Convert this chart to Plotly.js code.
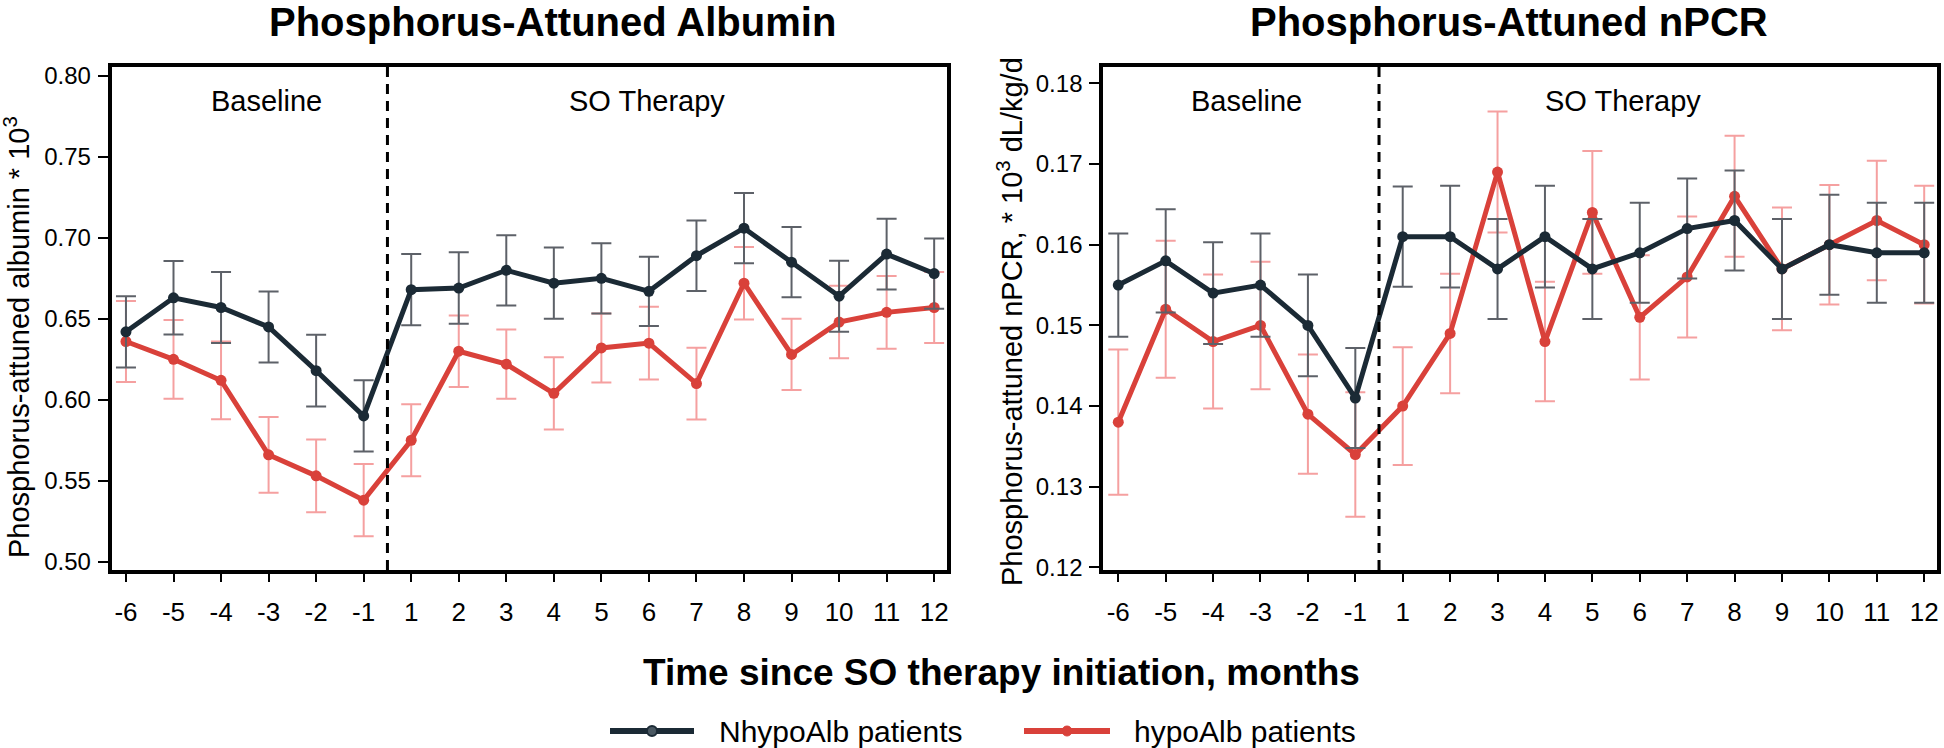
<!DOCTYPE html>
<html>
<head>
<meta charset="utf-8">
<script src="https://cdn.plot.ly/plotly-3.0.1.min.js"></script>
<style>html,body{margin:0;padding:0;background:#fff;}#chart{width:1944px;height:748px;}</style>
</head>
<body>
<div id="chart"></div>
<script>
// ---- data ----
const months = ['-6','-5','-4','-3','-2','-1','1','2','3','4','5','6','7','8','9','10','11','12'];

const albNhypo    = [0.642,0.663,0.657,0.645,0.618,0.590,0.668,0.669,0.680,0.672,0.675,0.667,0.689,0.706,0.685,0.664,0.690,0.678];
const albNhypoErr = [0.022,0.0227,0.0219,0.0219,0.0222,0.022,0.022,0.0221,0.0217,0.022,0.0217,0.0214,0.0218,0.0217,0.0217,0.0219,0.0218,0.0217];
const albHypo     = [0.636,0.625,0.612,0.566,0.553,0.538,0.575,0.630,0.622,0.604,0.632,0.635,0.610,0.672,0.628,0.648,0.654,0.657];
const albHypoErr  = [0.025,0.0243,0.024,0.0234,0.0225,0.0223,0.0223,0.0221,0.0214,0.0223,0.0213,0.0224,0.0221,0.0224,0.022,0.0224,0.0224,0.0219];

const npcrNhypo    = [0.155,0.158,0.154,0.155,0.150,0.141,0.161,0.161,0.157,0.161,0.157,0.159,0.162,0.163,0.157,0.160,0.159,0.159];
const npcrNhypoErr = [0.0064,0.0064,0.0063,0.0064,0.0063,0.0062,0.0062,0.0063,0.0062,0.0063,0.0062,0.0062,0.0062,0.0062,0.0062,0.0062,0.0062,0.0062];
const npcrHypo     = [0.138,0.152,0.148,0.150,0.139,0.134,0.140,0.149,0.169,0.148,0.164,0.151,0.156,0.166,0.157,0.160,0.163,0.160];
const npcrHypoErr  = [0.009,0.0085,0.0083,0.0079,0.0074,0.0077,0.0073,0.0074,0.0075,0.0074,0.0076,0.0077,0.0075,0.0075,0.0076,0.0074,0.0074,0.0073];

const albTicks  = [0.50,0.55,0.60,0.65,0.70,0.75,0.80];
const npcrTicks = [0.12,0.13,0.14,0.15,0.16,0.17,0.18];

const seriesNames = ['NhypoAlb patients', 'hypoAlb patients'];

// ---- styles ----
const DARK = '#1b2a35', RED = '#d9413a', DARK_ERR = '#5d6168', RED_ERR = '#f5a0a0';
const FONT = 'Liberation Sans, Arial, Helvetica, sans-serif';

function series(x, y, err, name, color, errColor, xa, ya) {
  return {
    type: 'scatter', mode: 'lines+markers', x: x, y: y, name: name,
    xaxis: xa, yaxis: ya, showlegend: false,
    line: {color: color, width: 5},
    marker: {color: color, size: 11},
    error_y: {type: 'data', array: err, visible: true, color: errColor, thickness: 2, width: 10}
  };
}

const data = [
  series(months, albHypo, albHypoErr, seriesNames[1], RED, RED_ERR, 'x', 'y'),
  series(months, albNhypo, albNhypoErr, seriesNames[0], DARK, DARK_ERR, 'x', 'y'),
  series(months, npcrHypo, npcrHypoErr, seriesNames[1], RED, RED_ERR, 'x2', 'y2'),
  series(months, npcrNhypo, npcrNhypoErr, seriesNames[0], DARK, DARK_ERR, 'x2', 'y2')
];

const xCommon = {
  type: 'category', showline: true, mirror: true, linewidth: 4, linecolor: '#000',
  ticks: 'outside', ticklen: 8, tickwidth: 2, tickcolor: '#000', ticklabelstandoff: 8,
  tickfont: {family: FONT, size: 26, color: '#000'},
  showgrid: false, zeroline: false, fixedrange: true
};
const yCommon = {
  showline: true, mirror: true, linewidth: 4, linecolor: '#000',
  ticks: 'outside', ticklen: 10, tickwidth: 2, tickcolor: '#000', ticklabelstandoff: 2,
  tickfont: {family: FONT, size: 24, color: '#000'},
  showgrid: false, zeroline: false, tickformat: '.2f', fixedrange: true
};

const yDom = [0.238, 0.9104];
const LEG_Y = 1 - 731/748;
const px = v => v / 1944;

const layout = {
  width: 1944, height: 748,
  margin: {l: 0, r: 0, t: 0, b: 0},
  paper_bgcolor: '#fff', plot_bgcolor: '#fff',
  font: {family: FONT, color: '#000'},
  showlegend: false,
  xaxis: Object.assign({}, xCommon, {domain: [0.05746, 0.48714], range: [-0.30, 17.27], anchor: 'y'}),
  yaxis: Object.assign({}, yCommon, {domain: yDom, range: [0.49487, 0.80556], tickvals: albTicks, anchor: 'x'}),
  xaxis2: Object.assign({}, xCommon, {domain: [0.56754, 0.9964], range: [-0.316, 17.27], anchor: 'y2'}),
  yaxis2: Object.assign({}, yCommon, {domain: yDom, range: [0.11969, 0.18202], tickvals: npcrTicks, anchor: 'x2'}),
  shapes: [
    {type: 'line', xref: 'x', yref: 'paper', x0: 5.5, x1: 5.5, y0: yDom[0], y1: yDom[1],
     line: {color: '#000', width: 3, dash: '10px,7px'}},
    {type: 'line', xref: 'x2', yref: 'paper', x0: 5.5, x1: 5.5, y0: yDom[0], y1: yDom[1],
     line: {color: '#000', width: 3, dash: '10px,7px'}},
    // legend keys
    {type: 'line', xref: 'paper', yref: 'paper', x0: px(610), x1: px(694), y0: LEG_Y, y1: LEG_Y,
     line: {color: DARK, width: 6}},
    {type: 'circle', xref: 'paper', yref: 'paper', xsizemode: 'pixel', ysizemode: 'pixel',
     xanchor: px(652), yanchor: LEG_Y, x0: -5, x1: 5, y0: -5, y1: 5,
     fillcolor: '#4a5862', line: {color: DARK, width: 2}},
    {type: 'line', xref: 'paper', yref: 'paper', x0: px(1024), x1: px(1110), y0: LEG_Y, y1: LEG_Y,
     line: {color: RED, width: 6}},
    {type: 'circle', xref: 'paper', yref: 'paper', xsizemode: 'pixel', ysizemode: 'pixel',
     xanchor: px(1067), yanchor: LEG_Y, x0: -5, x1: 5, y0: -5, y1: 5,
     fillcolor: RED, line: {color: RED, width: 1}}
  ],
  annotations: [
    {text: '<b>Phosphorus-Attuned Albumin</b>', xref: 'paper', yref: 'paper', x: 0.284, y: 1 - 22/748,
     xanchor: 'center', yanchor: 'middle', showarrow: false, font: {family: FONT, size: 40, color: '#000'}},
    {text: '<b>Phosphorus-Attuned nPCR</b>', xref: 'paper', yref: 'paper', x: 0.7762, y: 1 - 22/748,
     xanchor: 'center', yanchor: 'middle', showarrow: false, font: {family: FONT, size: 40, color: '#000'}},
    {text: 'Baseline', xref: 'x', yref: 'paper', x: 2.95, y: 1 - 101/748, xanchor: 'center', yanchor: 'middle',
     showarrow: false, font: {family: FONT, size: 29, color: '#000'}},
    {text: 'SO Therapy', xref: 'x', yref: 'paper', x: 10.96, y: 1 - 101/748, xanchor: 'center', yanchor: 'middle',
     showarrow: false, font: {family: FONT, size: 29, color: '#000'}},
    {text: 'Baseline', xref: 'x2', yref: 'paper', x: 2.7, y: 1 - 101/748, xanchor: 'center', yanchor: 'middle',
     showarrow: false, font: {family: FONT, size: 29, color: '#000'}},
    {text: 'SO Therapy', xref: 'x2', yref: 'paper', x: 10.64, y: 1 - 101/748, xanchor: 'center', yanchor: 'middle',
     showarrow: false, font: {family: FONT, size: 29, color: '#000'}},
    {text: 'Phosphorus-attuned albumin * 10<sup>3</sup>', xref: 'paper', yref: 'paper', x: 17/1944, y: 1 - 337/748,
     xanchor: 'center', yanchor: 'middle', textangle: -90, showarrow: false, font: {family: FONT, size: 29, color: '#000'}},
    {text: 'Phosphorus-attuned nPCR, * 10<sup>3</sup> dL/kg/d', xref: 'paper', yref: 'paper', x: 1010/1944, y: 1 - 322/748,
     xanchor: 'center', yanchor: 'middle', textangle: -90, showarrow: false, font: {family: FONT, size: 29, color: '#000'}},
    {text: '<b>Time since SO therapy initiation, months</b>', xref: 'paper', yref: 'paper', x: 1001/1944, y: 1 - 672/748,
     xanchor: 'center', yanchor: 'middle', showarrow: false, font: {family: FONT, size: 37, color: '#000'}},
    {text: seriesNames[0], xref: 'paper', yref: 'paper', x: px(717), y: LEG_Y, xanchor: 'left', yanchor: 'middle',
     showarrow: false, font: {family: FONT, size: 30, color: '#000'}},
    {text: seriesNames[1], xref: 'paper', yref: 'paper', x: px(1132), y: LEG_Y, xanchor: 'left', yanchor: 'middle',
     showarrow: false, font: {family: FONT, size: 30, color: '#000'}}
  ]
};

Plotly.newPlot('chart', data, layout, {displayModeBar: false, staticPlot: true});
</script>
</body>
</html>
